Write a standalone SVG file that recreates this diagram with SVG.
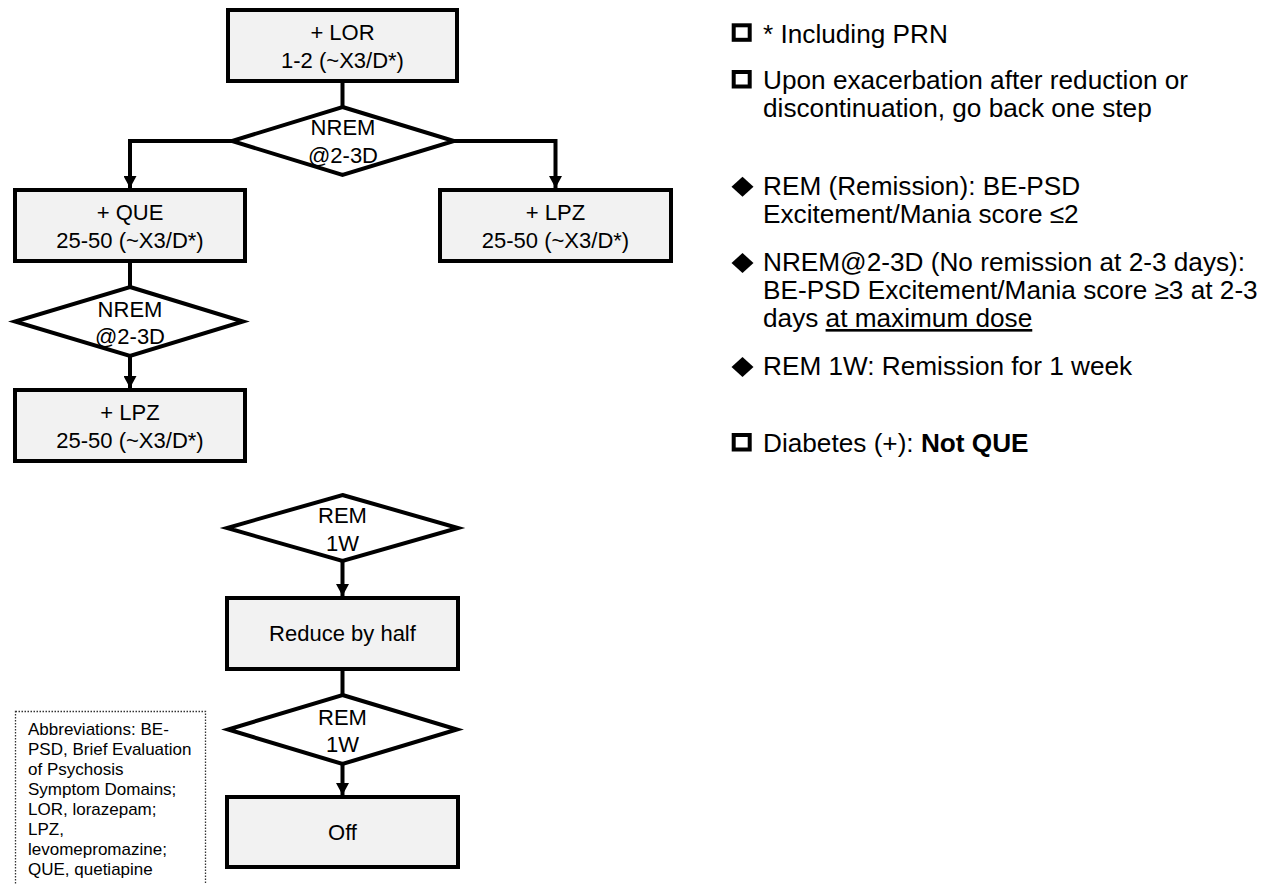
<svg xmlns="http://www.w3.org/2000/svg" width="1268" height="884" viewBox="0 0 1268 884">
  <style>
    .box { fill: #f2f2f2; stroke: #000; stroke-width: 4; }
    .dia { fill: #fff; stroke: #000; stroke-width: 4; stroke-linejoin: miter; }
    .conn { fill: none; stroke: #000; stroke-width: 4; }
    .t { font-family: "Liberation Sans", Arial, sans-serif; font-size: 22px; fill: #000; text-anchor: middle; }
    .r { font-family: "Liberation Sans", Arial, sans-serif; font-size: 26.2px; fill: #000; }
    .ab { font-family: "Liberation Sans", Arial, sans-serif; font-size: 17px; fill: #000; }
    .sq { fill: none; stroke: #000; stroke-width: 4; }
    .bd { fill: #000; }
  </style>
  <defs>
    <marker id="arr" viewBox="0 0 12 13" refX="12" refY="6.5" markerWidth="12" markerHeight="13" markerUnits="userSpaceOnUse" orient="auto">
      <path d="M0,0 L12,6.5 L0,13 z" fill="#000"/>
    </marker>
  </defs>
  <rect width="1268" height="884" fill="#fff"/>

  <g id="connectors">
    <path class="conn" d="M342.5,83 V107"/>
    <path class="conn" d="M232,141 H130 V188" marker-end="url(#arr)"/>
    <path class="conn" d="M454,141 H555.5 V188" marker-end="url(#arr)"/>
    <path class="conn" d="M130,263 V287"/>
    <path class="conn" d="M130,356 V388" marker-end="url(#arr)"/>
    <path class="conn" d="M342.5,561 V596" marker-end="url(#arr)"/>
    <path class="conn" d="M342.5,671 V695"/>
    <path class="conn" d="M342.5,764 V795" marker-end="url(#arr)"/>
  </g>

  <g id="n_lor">
    <rect class="box" x="228" y="10" width="229" height="71"/>
    <text class="t" x="342.5" y="40">+ LOR</text>
    <text class="t" x="342.5" y="68">1-2 (~X3/D*)</text>
  </g>
  <g id="d_nrem1">
    <polygon class="dia" points="342.5,107 454,141 342.5,175 232,141"/>
    <text class="t" x="343" y="135">NREM</text>
    <text class="t" x="343" y="163">@2-3D</text>
  </g>
  <g id="n_que">
    <rect class="box" x="15" y="190" width="230" height="71"/>
    <text class="t" x="130" y="220">+ QUE</text>
    <text class="t" x="130" y="248">25-50 (~X3/D*)</text>
  </g>
  <g id="n_lpz_right">
    <rect class="box" x="440" y="190" width="231" height="71"/>
    <text class="t" x="555.5" y="220">+ LPZ</text>
    <text class="t" x="555.5" y="248">25-50 (~X3/D*)</text>
  </g>
  <g id="d_nrem2">
    <polygon class="dia" points="130,287 243,321.5 130,356 15,321.5"/>
    <text class="t" x="130" y="317">NREM</text>
    <text class="t" x="130" y="344">@2-3D</text>
  </g>
  <g id="n_lpz_left">
    <rect class="box" x="15" y="390" width="230" height="71"/>
    <text class="t" x="130" y="420">+ LPZ</text>
    <text class="t" x="130" y="448">25-50 (~X3/D*)</text>
  </g>
  <g id="d_rem1">
    <polygon class="dia" points="342.5,495 458,528 342.5,561 227,528"/>
    <text class="t" x="342.5" y="523">REM</text>
    <text class="t" x="342.5" y="551">1W</text>
  </g>
  <g id="n_reduce">
    <rect class="box" x="227" y="598" width="231" height="71"/>
    <text class="t" x="342.5" y="641">Reduce by half</text>
  </g>
  <g id="d_rem2">
    <polygon class="dia" points="342.5,695 457,729.5 342.5,764 228,729.5"/>
    <text class="t" x="342.5" y="725">REM</text>
    <text class="t" x="342.5" y="752">1W</text>
  </g>
  <g id="n_off">
    <rect class="box" x="227" y="797" width="231" height="70"/>
    <text class="t" x="342.5" y="840">Off</text>
  </g>

  <g id="abbrev">
    <rect x="15.5" y="711.5" width="190" height="190" fill="none" stroke="#333" stroke-width="1.3" stroke-dasharray="1.5,1.5"/>
    <text class="ab" x="28" y="735">Abbreviations: BE-</text>
    <text class="ab" x="28" y="755">PSD, Brief Evaluation</text>
    <text class="ab" x="28" y="775">of Psychosis</text>
    <text class="ab" x="28" y="795">Symptom Domains;</text>
    <text class="ab" x="28" y="815">LOR, lorazepam;</text>
    <text class="ab" x="28" y="835">LPZ,</text>
    <text class="ab" x="28" y="855">levomepromazine;</text>
    <text class="ab" x="28" y="875">QUE, quetiapine</text>
  </g>

  <g id="notes">
    <rect class="sq" x="733.7" y="25.3" width="16" height="14.5"/>
    <text class="r" x="763" y="43">* Including PRN</text>
    <rect class="sq" x="733.7" y="72" width="16" height="14.5"/>
    <text class="r" x="763" y="89">Upon exacerbation after reduction or</text>
    <text class="r" x="763" y="117">discontinuation, go back one step</text>
    <polygon class="bd" points="742.5,176.7 753.5,186.7 742.5,196.7 731.5,186.7"/>
    <text class="r" x="763" y="195">REM (Remission): BE-PSD</text>
    <text class="r" x="763" y="223">Excitement/Mania score ≤2</text>
    <polygon class="bd" points="742.5,253 753.5,263 742.5,273 731.5,263"/>
    <text class="r" x="763" y="271">NREM@2-3D (No remission at 2-3 days):</text>
    <text class="r" x="763" y="299">BE-PSD Excitement/Mania score ≥3 at 2-3</text>
    <text class="r" x="763" y="327">days <tspan text-decoration="underline">at maximum dose</tspan></text>
    <polygon class="bd" points="742.5,357 753.5,367 742.5,377 731.5,367"/>
    <text class="r" x="763" y="375">REM 1W: Remission for 1 week</text>
    <rect class="sq" x="733.7" y="435" width="16" height="14.5"/>
    <text class="r" x="763" y="452">Diabetes (+): <tspan font-weight="bold">Not QUE</tspan></text>
  </g>
</svg>
